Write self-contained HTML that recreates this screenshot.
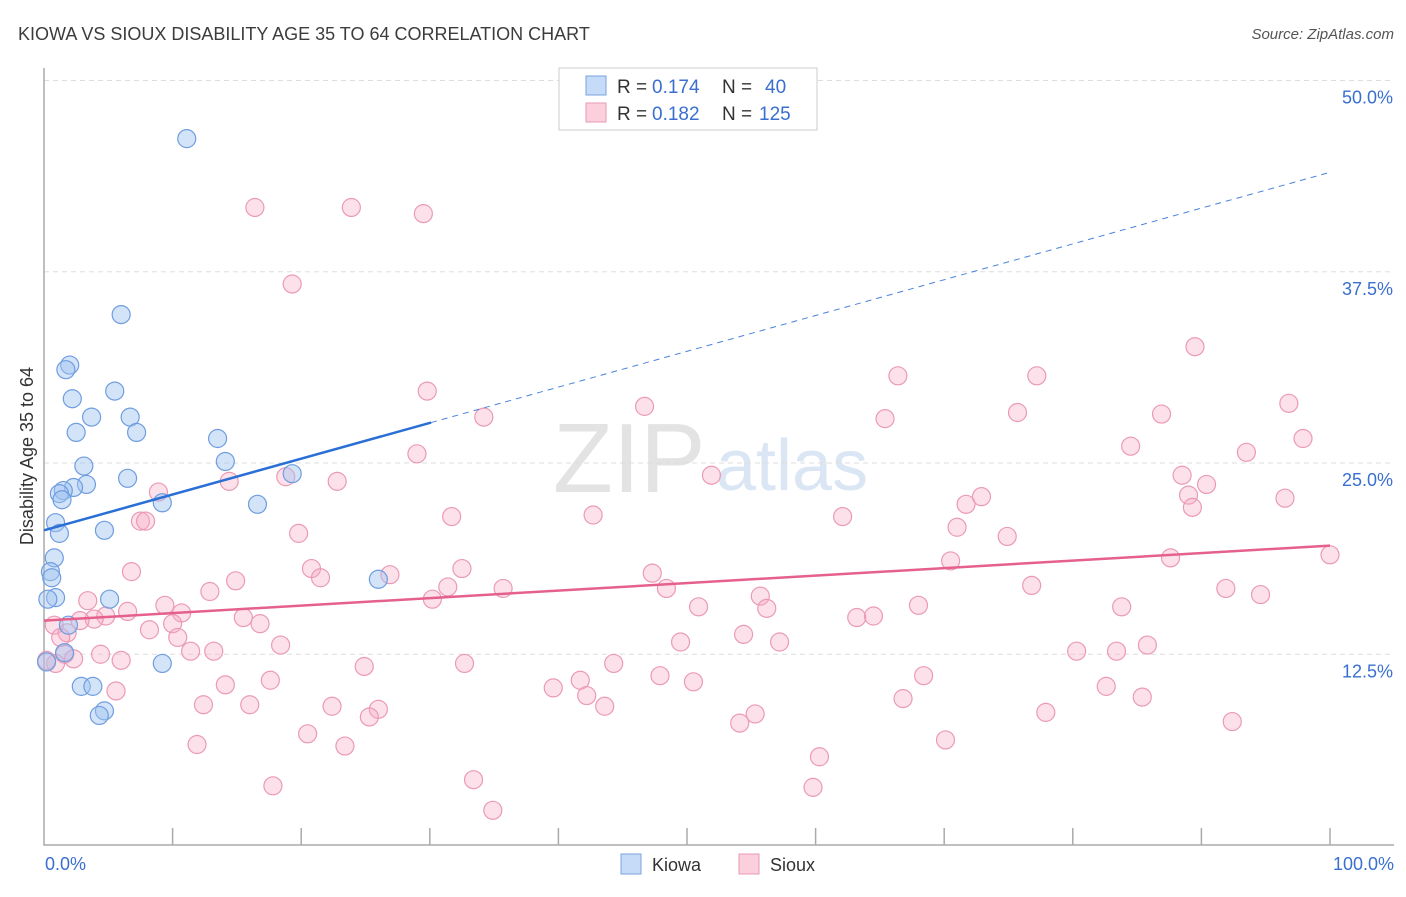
<!DOCTYPE html>
<html><head><meta charset="utf-8"><style>
body{margin:0;background:#fff;font-family:"Liberation Sans",sans-serif;}
svg text{font-family:"Liberation Sans",sans-serif;}
</style></head><body>
<svg width="1406" height="892" xmlns="http://www.w3.org/2000/svg">
<text x="18" y="40" font-size="18" fill="#3c3c3c">KIOWA VS SIOUX DISABILITY AGE 35 TO 64 CORRELATION CHART</text>
<text x="1394" y="39" font-size="15" font-style="italic" fill="#555" text-anchor="end">Source: ZipAtlas.com</text>
<text x="553" y="492" font-size="98" fill="#e3e3e3" font-family="Liberation Serif">ZIP</text>
<text x="716" y="490" font-size="72" fill="#dbe6f4">atlas</text>
<g id="grid"></g>
<g id="axes"></g>
<g id="marks"></g>
<text transform="translate(33,456) rotate(-90)" font-size="18" fill="#333" text-anchor="middle">Disability Age 35 to 64</text>
<text x="45" y="870" font-size="18" fill="#3a6fd0">0.0%</text>
<text x="1394" y="870" font-size="18" fill="#3a6fd0" text-anchor="end">100.0%</text>
<g>
<rect x="559" y="68" width="258" height="62" fill="#fff" stroke="#ccc"/>
<rect x="586" y="76" width="20" height="19" fill="#c6dbf7" stroke="#7aa3e0"/>
<text x="617" y="93" font-size="19" fill="#333">R =</text>
<text x="652" y="93" font-size="19" fill="#3a6fd0">0.174</text>
<text x="722" y="93" font-size="19" fill="#333">N =</text>
<text x="765" y="93" font-size="19" fill="#3a6fd0">40</text>
<rect x="586" y="103" width="20" height="19" fill="#fbd0dc" stroke="#e99ab3"/>
<text x="617" y="120" font-size="19" fill="#333">R =</text>
<text x="652" y="120" font-size="19" fill="#3a6fd0">0.182</text>
<text x="722" y="120" font-size="19" fill="#333">N =</text>
<text x="759" y="120" font-size="19" fill="#3a6fd0">125</text>
</g>
<g>
<rect x="621" y="854" width="20" height="20" fill="#c6dbf7" stroke="#7aa3e0"/>
<text x="652" y="871" font-size="18" fill="#333">Kiowa</text>
<rect x="739" y="854" width="20" height="20" fill="#fbd0dc" stroke="#e99ab3"/>
<text x="770" y="871" font-size="18" fill="#333">Sioux</text>
</g>
</svg>
<script>
const yTicks=[12.5,25,37.5,50];
const yTickLabels=["12.5%","25.0%","37.5%","50.0%"];
const xTicks=[10,20,30,40,50,60,70,80,90,100];
const kiowaX=[11.1,6.0,2.0,1.7,5.5,2.2,3.7,6.7,2.5,7.2,13.5,14.1,3.1,6.5,19.3,3.3,2.3,1.5,1.2,1.4,9.2,16.6,0.9,4.7,1.2,0.8,0.5,0.6,0.9,0.3,5.1,26.0,1.9,1.6,0.2,9.2,2.9,3.8,4.7,4.3];
const kiowaY=[46.2,34.7,31.4,31.1,29.7,29.2,28.0,28.0,27.0,27.0,26.6,25.1,24.8,24.0,24.3,23.6,23.4,23.2,23.0,22.6,22.4,22.3,21.1,20.6,20.4,18.8,17.9,17.5,16.2,16.1,16.1,17.4,14.4,12.6,12.0,11.9,10.4,10.4,8.8,8.5];
const siouxX=[16.4,23.9,29.5,19.3,89.5,66.4,77.2,29.8,46.7,96.8,34.2,75.7,65.4,86.9,97.9,84.5,93.5,29.0,51.9,88.5,14.4,18.8,22.8,90.4,8.9,89.0,72.9,71.7,89.3,96.5,31.7,42.7,62.1,7.5,7.9,71.0,19.8,74.9,70.5,87.6,100.0,6.8,20.8,26.9,32.5,21.5,14.9,47.3,76.8,35.7,31.4,48.4,12.9,55.7,30.2,3.4,91.9,94.6,9.4,6.5,10.7,56.2,50.9,68.0,83.8,4.8,3.9,2.8,15.5,63.2,64.5,0.8,10.0,16.8,8.2,1.8,10.4,1.3,54.4,57.2,49.5,18.4,85.8,80.3,83.4,4.4,11.4,13.2,1.6,2.3,0.9,6.0,24.9,32.7,44.3,41.7,39.6,17.6,47.9,50.5,68.4,14.1,82.6,5.6,42.2,85.4,43.6,12.4,16.0,22.4,26.0,66.8,25.3,77.9,55.3,54.1,92.4,20.5,11.9,23.4,70.1,60.3,33.4,17.8,59.8,34.9,0.2];
const siouxY=[41.7,41.7,41.3,36.7,32.6,30.7,30.7,29.7,28.7,28.9,28.0,28.3,27.9,28.2,26.6,26.1,25.7,25.6,24.2,24.2,23.8,24.1,23.8,23.6,23.1,22.9,22.8,22.3,22.1,22.7,21.5,21.6,21.5,21.2,21.2,20.8,20.4,20.2,18.6,18.8,19.0,17.9,18.1,17.7,18.1,17.5,17.3,17.8,17.0,16.8,16.9,16.8,16.6,16.3,16.1,16.0,16.8,16.4,15.7,15.3,15.2,15.5,15.6,15.7,15.6,15.0,14.8,14.7,14.9,14.9,15.0,14.4,14.5,14.5,14.1,13.9,13.6,13.6,13.8,13.3,13.3,13.1,13.1,12.7,12.7,12.5,12.7,12.7,12.5,12.2,11.9,12.1,11.7,11.9,11.9,10.8,10.3,10.8,11.1,10.7,11.1,10.5,10.4,10.1,9.8,9.7,9.1,9.2,9.2,9.1,8.9,9.6,8.4,8.7,8.6,8.0,8.1,7.3,6.6,6.5,6.9,5.8,4.3,3.9,3.8,2.3,12.1];
const kiowaTrend=[20.6,44.0];
const siouxTrend=[14.7,19.6];
const kiowaSolidEnd=30.1;

const X=v=>44+v*12.86, Y=v=>845.5-v*15.3;
const NS="http://www.w3.org/2000/svg";
function mk(t,a,p){const e=document.createElementNS(NS,t);for(const k in a)e.setAttribute(k,a[k]);p.appendChild(e);return e;}
const grid=document.getElementById('grid'),axes=document.getElementById('axes'),marks=document.getElementById('marks');
yTicks.forEach((t,i)=>{
  const l=mk('line',{x1:44,x2:1394,y1:Y(t),y2:Y(t),stroke:'#ddd','stroke-dasharray':'5,4'},grid);
  
  
  const tx=mk('text',{x:1393,y:Y(t)+23,'font-size':18,fill:'#3a6fd0','text-anchor':'end'},grid);
  tx.textContent=yTickLabels[i];
  
  
});
const ax=mk('path',{d:`M44 68 V845 H1394`,fill:'none',stroke:'#aaa','stroke-width':1.5},axes);


xTicks.forEach(t=>{
  const l=mk('line',{x1:X(t),x2:X(t),y1:828,y2:845,stroke:'#aaa','stroke-width':1.5},axes);
  
  
});
siouxX.forEach((x,i)=>{
  const c=mk('circle',{cx:X(x),cy:Y(siouxY[i]),r:9,fill:'rgba(247,170,194,0.35)',stroke:'#eb9ab5','stroke-width':1.2},marks);
  
  
});
kiowaX.forEach((x,i)=>{
  const c=mk('circle',{cx:X(x),cy:Y(kiowaY[i]),r:9,fill:'rgba(160,196,240,0.45)',stroke:'#6f9de0','stroke-width':1.2},marks);
  
  
});
const ky=v=>kiowaTrend[0]+(kiowaTrend[1]-kiowaTrend[0])*v/100;
const kd=mk('line',{x1:X(kiowaSolidEnd),y1:Y(ky(kiowaSolidEnd)),x2:X(100),y2:Y(ky(100)),stroke:'#4a82dc','stroke-width':1,'stroke-dasharray':'6,5'},marks);


const ks=mk('line',{x1:X(0),y1:Y(ky(0)),x2:X(kiowaSolidEnd),y2:Y(ky(kiowaSolidEnd)),stroke:'#2a6fd6','stroke-width':2.5},marks);


const sl=mk('line',{x1:X(0),y1:Y(siouxTrend[0]),x2:X(100),y2:Y(siouxTrend[1]),stroke:'#e5608c','stroke-width':2.5},marks);


</script>
</body></html>
